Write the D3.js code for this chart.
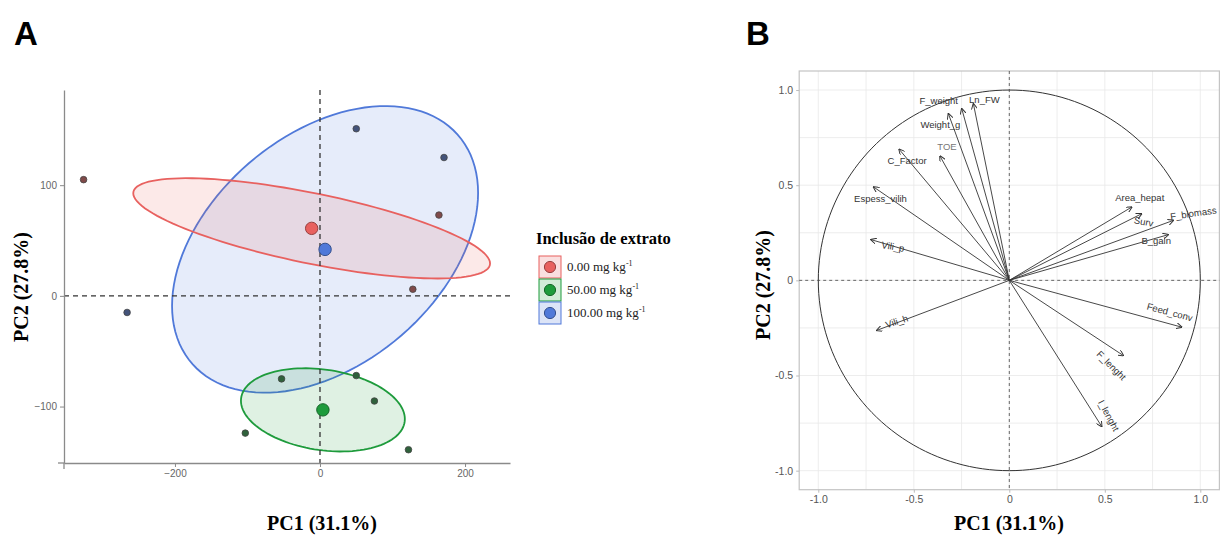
<!DOCTYPE html>
<html>
<head>
<meta charset="utf-8">
<script src="https://cdn.jsdelivr.net/npm/d3@7"></script>
<style>
  body { margin: 0; background: #fff; }
  svg text { font-family: "Liberation Sans", Arial, sans-serif; }
  .serif { font-family: "Liberation Serif", "Times New Roman", serif !important; }
</style>
</head>
<body>
<svg id="chart" width="1221" height="535"></svg>
<script>
// ---- data ----
const groups = ["0.00", "50.00", "100.00"];
const groupColors = ["#E8615F", "#1E9B3C", "#5079D9"];

// individuals (PC scores)
const indPC1 = [-326, 164, 128, 50, 171, -266, -53, 50, 75, -103, 122];
const indPC2 = [105, 73, 6, 151, 125, -15, -75, -72, -95, -124, -139];
const indGroup = [0, 0, 0, 2, 2, 2, 1, 1, 1, 1, 1];

// group means
const centPC1 = [-11.5, 4, 7];
const centPC2 = [61, -103, 42];

// ellipse spread per group
const ellSdPC1 = [246, 113, 211];
const ellSdPC2 = [45.3, 37.6, 129.5];
const ellCor = [-0.70, -0.22, 0.394];

const xTicksA = [-200, 0, 200];
const yTicksA = [-100, 0, 100];

// variable loadings
const varNames = ["F_weight", "Ln_FW", "Weight_g", "TOE", "C_Factor", "Espess_vilih", "Vili_p",
  "Area_hepat", "Surv", "F_biomass", "B_gain", "Feed_conv", "Vili_h", "F_lenght", "I_lenght"];
const varPC1 = [-0.249, -0.188, -0.319, -0.363, -0.577, -0.711, -0.724,
  0.641, 0.693, 0.859, 0.832, 0.903, -0.694, 0.597, 0.484];
const varPC2 = [0.902, 0.928, 0.876, 0.653, 0.689, 0.491, 0.214,
  0.385, 0.350, 0.315, 0.240, -0.246, -0.263, -0.395, -0.768];

const ticksB = [-1, -0.5, 0, 0.5, 1];
const tickLabelsB = ["-1.0", "-0.5", "0", "0.5", "1.0"];

// label placement for the loadings (pixel nudge from the tip, rotation)
const labelNudge = {
  F_weight: [-23, -8, 0], Ln_FW: [11, -4, 0], Weight_g: [-8, 11, 0], TOE: [7, -9, 0],
  C_Factor: [8, 11, 0], Espess_vilih: [7, 12, 0], Vili_p: [22, 7, 10],
  Area_hepat: [8, -9, 0], Surv: [2, 8, 10], F_biomass: [20, -7, -8], B_gain: [-12, 6, 0],
  Feed_conv: [-12, -15, 15], Vili_h: [20, -9, -18], F_lenght: [-12, 10, 45], I_lenght: [7, -11, 62]
};

const svg = d3.select("#chart");

// panel letters
svg.append("text").attr("x", 14).attr("y", 45).attr("font-size", 33).attr("font-weight", "bold").text("A");
svg.append("text").attr("x", 746).attr("y", 45).attr("font-size", 33).attr("font-weight", "bold").text("B");

// ================= Panel A =================
const xA = d3.scaleLinear().domain([-353, 262]).range([64, 510]);
const yA = d3.scaleLinear().domain([-151, 186]).range([463, 90]);
const gA = svg.append("g");

// ellipses
function ellipsePath(i) {
  const sx = ellSdPC1[i], sy = ellSdPC2[i], r = ellCor[i];
  const l21 = r * sy, l22 = sy * Math.sqrt(1 - r * r);
  const pts = d3.range(0, 361, 3).map(a => {
    const t = a * Math.PI / 180, c = Math.cos(t), s = Math.sin(t);
    return [xA(centPC1[i] + sx * c), yA(centPC2[i] + l21 * c + l22 * s)];
  });
  return d3.line()(pts) + "Z";
}
[2, 0, 1].forEach(i => {
  gA.append("path")
    .attr("d", ellipsePath(i))
    .attr("fill", groupColors[i]).attr("fill-opacity", 0.14)
    .attr("stroke", groupColors[i]).attr("stroke-width", 1.8);
});

// reference lines
gA.append("line").attr("x1", xA(0)).attr("x2", xA(0)).attr("y1", 90).attr("y2", 463)
  .attr("stroke", "#333").attr("stroke-width", 1.3).attr("stroke-dasharray", "5,4");
gA.append("line").attr("x1", 64).attr("x2", 510).attr("y1", yA(0)).attr("y2", yA(0))
  .attr("stroke", "#333").attr("stroke-width", 1.3).attr("stroke-dasharray", "5,4");

// axes
const axA = gA.append("g").attr("transform", "translate(0,463)")
  .call(d3.axisBottom(xA).tickValues(xTicksA).tickSize(4).tickSizeOuter(0).tickFormat(d => d === 0 ? "0" : d3.format("")(d).replace("-", "\u2212")));
const ayA = gA.append("g").attr("transform", "translate(64,0)")
  .call(d3.axisLeft(yA).tickValues(yTicksA).tickSize(4).tickSizeOuter(0).tickFormat(d => d === 0 ? "0" : d3.format("")(d).replace("-", "\u2212")));
[axA, ayA].forEach(a => {
  a.select(".domain").attr("stroke", "#8a8a8a").attr("stroke-width", 1.3);
  a.selectAll(".tick line").attr("stroke", "#8a8a8a");
  a.selectAll("text").attr("fill", "#666").attr("font-size", 10);
});
gA.append("line").attr("x1", 58).attr("x2", 64).attr("y1", 463).attr("y2", 463).attr("stroke", "#8a8a8a").attr("stroke-width", 1.3);
gA.append("line").attr("x1", 64).attr("x2", 64).attr("y1", 463).attr("y2", 469).attr("stroke", "#8a8a8a").attr("stroke-width", 1.3);

// individuals
gA.selectAll(".ind").data(indPC1).enter().append("circle")
  .attr("cx", d => xA(d)).attr("cy", (d, i) => yA(indPC2[i])).attr("r", 3.3)
  .attr("fill", (d, i) => d3.interpolateRgb(groupColors[indGroup[i]], "#3a3a3a")(0.6))
  .attr("stroke", "#444").attr("stroke-width", 0.8);

// centroids
gA.selectAll(".cent").data(centPC1).enter().append("circle")
  .attr("cx", d => xA(d)).attr("cy", (d, i) => yA(centPC2[i])).attr("r", 6.2)
  .attr("fill", (d, i) => groupColors[i])
  .attr("stroke", (d, i) => d3.color(groupColors[i]).darker(1.2)).attr("stroke-width", 1);

// axis titles
svg.append("text").attr("class", "serif").attr("x", 322).attr("y", 530).attr("text-anchor", "middle")
  .attr("font-size", 20).attr("font-weight", "bold").text("PC1 (31.1%)");
svg.append("text").attr("class", "serif").attr("transform", "translate(28,287) rotate(-90)")
  .attr("text-anchor", "middle").attr("font-size", 20).attr("font-weight", "bold").text("PC2 (27.8%)");

// legend
const leg = svg.append("g");
leg.append("text").attr("class", "serif").attr("x", 536).attr("y", 244)
  .attr("font-size", 16.5).attr("font-weight", "bold").text("Inclusão de extrato");
groups.forEach((g, i) => {
  const y0 = 256 + i * 23;
  leg.append("rect").attr("x", 539).attr("y", y0).attr("width", 22).attr("height", 22)
    .attr("fill", groupColors[i]).attr("fill-opacity", 0.2)
    .attr("stroke", groupColors[i]).attr("stroke-width", 1);
  leg.append("circle").attr("cx", 550).attr("cy", y0 + 11).attr("r", 5.6)
    .attr("fill", groupColors[i]).attr("stroke", d3.color(groupColors[i]).darker(1.2));
  const t = leg.append("text").attr("class", "serif").attr("x", 567).attr("y", y0 + 15).attr("font-size", 13).attr("fill", "#222");
  t.append("tspan").text(g + " mg kg");
  t.append("tspan").attr("dy", -5).attr("font-size", 8).text("-1");
});

// ================= Panel B =================
const xB = d3.scaleLinear().domain([-1.1, 1.1]).range([799.2, 1219.4]);
const yB = d3.scaleLinear().domain([-1.1, 1.1]).range([489.7, 71]);
const gB = svg.append("g");

// grid
const minorB = [-0.75, -0.25, 0.25, 0.75];
minorB.concat(ticksB).forEach(v => {
  gB.append("line").attr("x1", xB(v)).attr("x2", xB(v)).attr("y1", yB(1.1)).attr("y2", yB(-1.1))
    .attr("stroke", "#e8e8e8").attr("stroke-width", 0.8);
  gB.append("line").attr("y1", yB(v)).attr("y2", yB(v)).attr("x1", xB(-1.1)).attr("x2", xB(1.1))
    .attr("stroke", "#e8e8e8").attr("stroke-width", 0.8);
});
gB.append("rect").attr("x", xB(-1.1)).attr("y", yB(1.1))
  .attr("width", xB(1.1) - xB(-1.1)).attr("height", yB(-1.1) - yB(1.1))
  .attr("fill", "none").attr("stroke", "#c4c4c4").attr("stroke-width", 1.2);

// axes (labels only, small ticks)
const axB = gB.append("g").attr("transform", `translate(0,${yB(-1.1)})`)
  .call(d3.axisBottom(xB).tickValues(ticksB).tickSize(3).tickFormat((d, i) => tickLabelsB[i]));
const ayB = gB.append("g").attr("transform", `translate(${xB(-1.1)},0)`)
  .call(d3.axisLeft(yB).tickValues(ticksB).tickSize(3).tickFormat((d, i) => tickLabelsB[i]));
[axB, ayB].forEach(a => {
  a.select(".domain").remove();
  a.selectAll(".tick line").attr("stroke", "#bbb");
  a.selectAll("text").attr("fill", "#555").attr("font-size", 10.5);
});

// dashed zero lines
gB.append("line").attr("x1", xB(0)).attr("x2", xB(0)).attr("y1", yB(1.1)).attr("y2", yB(-1.1))
  .attr("stroke", "#444").attr("stroke-width", 0.8).attr("stroke-dasharray", "3,3");
gB.append("line").attr("x1", xB(-1.1)).attr("x2", xB(1.1)).attr("y1", yB(0)).attr("y2", yB(0))
  .attr("stroke", "#444").attr("stroke-width", 0.8).attr("stroke-dasharray", "3,3");

// correlation circle
const circ = d3.range(0, 361, 2).map(a => [xB(Math.cos(a * Math.PI / 180)), yB(Math.sin(a * Math.PI / 180))]);
gB.append("path").attr("d", d3.line()(circ) + "Z").attr("fill", "none").attr("stroke", "#333").attr("stroke-width", 1);

// arrows
svg.append("defs").append("marker").attr("id", "head")
  .attr("viewBox", "0 0 10 10").attr("refX", 9).attr("refY", 5)
  .attr("markerWidth", 6).attr("markerHeight", 6).attr("markerUnits", "userSpaceOnUse")
  .attr("orient", "auto")
  .append("path").attr("d", "M0,0L10,5L0,10").attr("fill", "none").attr("stroke", "#333").attr("stroke-width", 1.6);

gB.selectAll(".arrow").data(varNames).enter().append("line")
  .attr("x1", xB(0)).attr("y1", yB(0))
  .attr("x2", (d, i) => xB(varPC1[i])).attr("y2", (d, i) => yB(varPC2[i]))
  .attr("stroke", "#333").attr("stroke-width", 0.9).attr("marker-end", "url(#head)");

gB.selectAll(".vlab").data(varNames).enter().append("text")
  .attr("transform", (d, i) => {
    const n = labelNudge[d];
    return `translate(${xB(varPC1[i]) + n[0]},${yB(varPC2[i]) + n[1]}) rotate(${n[2]})`;
  })
  .attr("text-anchor", "middle").attr("dy", "0.35em")
  .attr("font-size", 9.5).attr("fill", d => d === "TOE" ? "#777" : "#333")
  .text(d => d);

// axis titles B
svg.append("text").attr("class", "serif").attr("x", 1009).attr("y", 530).attr("text-anchor", "middle")
  .attr("font-size", 20).attr("font-weight", "bold").text("PC1 (31.1%)");
svg.append("text").attr("class", "serif").attr("transform", "translate(770,285) rotate(-90)")
  .attr("text-anchor", "middle").attr("font-size", 20).attr("font-weight", "bold").text("PC2 (27.8%)");
</script>
</body>
</html>
